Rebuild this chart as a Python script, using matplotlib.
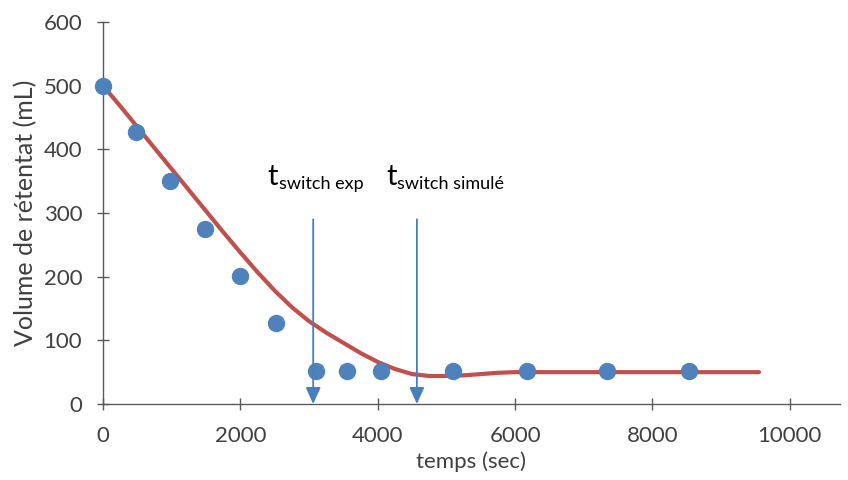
import matplotlib
matplotlib.use("Agg")
from matplotlib import pyplot as plt
from matplotlib import transforms

# measured points (temps, volume)
t_exp = [0, 480, 975, 1485, 1995, 2518, 3100, 3550, 4047, 5095, 6170, 7336, 8530]
v_exp = [500, 427, 350, 275, 201, 127, 52, 52, 52, 52, 52, 52, 52]

# simulated curve
t_sim = [0, 250, 500, 750, 1000, 1250, 1500, 1750, 2000, 2250, 2500, 2750, 3000,
         3250, 3500, 3750, 4000, 4250, 4500, 4750, 5000, 5250, 5500, 5750, 6000,
         6500, 7000, 7500, 8000, 8500, 9000, 9550]
v_sim = [500, 468, 435, 402, 369, 336, 303, 270, 238, 207, 178, 152, 130,
         112, 96, 80, 66, 55, 47, 44, 44, 45, 47, 49, 50,
         50, 50, 50, 50, 50, 50, 50]

# switch times
t_switch = [3060, 4570]
switch_labels = ["switch exp", "switch simulé"]
label_pos = [(2400, 344), (4120, 344)]

BLUE = "#4F81BD"
RED = "#C0504D"
TXT = "#404040"

plt.rcParams["font.family"] = ["Lato", "DejaVu Sans"]

fig = plt.figure(figsize=(8.48, 4.8), dpi=100)
ax = fig.add_axes([103 / 848, 1 - 404 / 480, (840 - 103) / 848, (404 - 22) / 480])

ax.plot(t_sim, v_sim, color=RED, lw=3, solid_capstyle="round", zorder=2)
ax.plot(t_exp, v_exp, "o", color=BLUE, ms=11.5, zorder=3, clip_on=False)

for x in t_switch:
	ax.annotate("", xy=(x, 0), xytext=(x, 290),
				arrowprops=dict(arrowstyle="-|>,head_length=1.0,head_width=0.45",
								color="#4A7EBB", lw=1.3, shrinkA=0, shrinkB=0),
				zorder=4)

for (x, y), sub in zip(label_pos, switch_labels):
	ax.text(x, y, "t", fontsize=21, color="black", ha="left", va="baseline")
	off = transforms.offset_copy(ax.transData, fig=fig, x=8, y=-3, units="points")
	ax.text(x, y, sub, fontsize=13, color="black", ha="left", va="baseline", transform=off)

ax.set_xlim(0, 10730)
ax.set_ylim(0, 600)
ax.set_xticks([0, 2000, 4000, 6000, 8000, 10000])
ax.set_yticks([0, 100, 200, 300, 400, 500, 600])
ax.spines["top"].set_visible(False)
ax.spines["right"].set_visible(False)
for s in ("left", "bottom"):
	ax.spines[s].set_color("#595959")
	ax.spines[s].set_linewidth(1.0)
ax.tick_params(axis="both", direction="inout", length=8, width=1.0, color="#595959",
			   labelsize=16, labelcolor=TXT)
ax.tick_params(axis="x", pad=12)
ax.tick_params(axis="y", pad=11)

ax.set_xlabel("temps (sec)", fontsize=16, color=TXT)
ax.xaxis.label.set_va("center")
ax.xaxis.set_label_coords(0.5, (404 - 462) / 382)
ax.set_ylabel("Volume de rétentat (mL)", fontsize=18, color=TXT)
ax.yaxis.label.set_va("center")
ax.yaxis.set_label_coords((26 - 103) / 737, 0.5)

fig.savefig("out.png", dpi=100)
